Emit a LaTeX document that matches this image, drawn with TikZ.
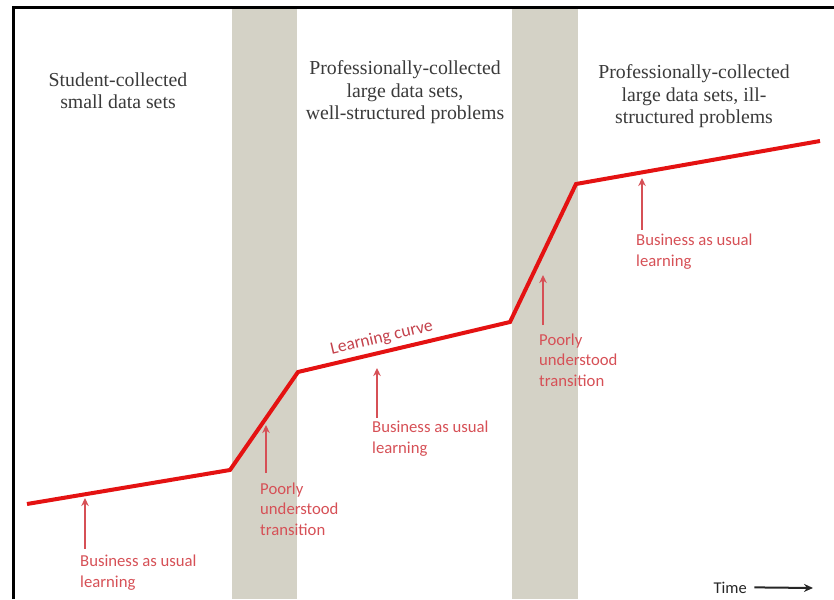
\documentclass[tikz,border=0pt]{standalone}
\usepackage{fontspec}
\setmainfont{Liberation Serif}
\newfontfamily\calfont{Carlito}
\usetikzlibrary{arrows.meta}
\definecolor{bandgray}{RGB}{212,210,198}
\definecolor{curvered}{RGB}{228,18,18}
\definecolor{labred}{RGB}{214,80,86}
\definecolor{curvelab}{RGB}{196,66,76}
\definecolor{headgray}{RGB}{58,58,58}
\tikzset{
  heading/.style={font=\fontsize{19.8}{22.5}\selectfont, text=headgray, align=center, anchor=base, inner sep=0pt},
  redlabel/.style={font=\calfont\fontsize{16.7}{20.5}\selectfont, text=labred, align=left, anchor=base west, inner sep=0pt},
  redarrow/.style={draw=labred, line width=1.8pt, -{Stealth[length=8pt,width=7.5pt]}},
  curveline/.style={draw=curvered, line width=4pt, line join=miter},
  band/.style={fill=bandgray}
}
\begin{document}
\begin{tikzpicture}[x=1pt,y=-1pt]
\useasboundingbox (0,0) rectangle (834,599);
% bands
\fill[band] (232,9) rectangle (297,599);
\fill[band] (512,9) rectangle (578,599);
% frame
\draw[line width=2.6pt] (13.5,599) -- (13.5,7.5) -- (834,7.5);
% headings (anchor = baseline of last line)
\node[heading, font=\fontsize{19.8}{21}\selectfont] (h1) at (118,108) {Student-collected\\small data sets};
\node[heading] (h2) at (405,120) {Professionally-collected\\large data sets,\\well-structured problems};
\node[heading] (h3) at (694,124) {Professionally-collected\\large data sets, ill-\\structured problems};
% learning curve
\coordinate (c0) at (27,504);
\coordinate (c1) at (230,470);
\coordinate (c2) at (298,372);
\coordinate (c3) at (510,322);
\coordinate (c4) at (576,184);
\coordinate (c5) at (820,141);
\draw[curveline] (c0) -- (c1) -- (c2) -- (c3) -- (c4) -- (c5);
\path (c2) -- (c3) node[pos=0.41, sloped, above=6pt, inner sep=0pt, font=\calfont\fontsize{17.5}{20}\selectfont, text=curvelab] (lc) {Learning curve};
% arrow tips
\coordinate (t1) at (85,498);
\coordinate (t2) at (266,425);
\coordinate (t3) at (377,368);
\coordinate (t4) at (543,275);
\coordinate (t5) at (642,178);
% labels (anchor = baseline of last line)
\node[redlabel] (l1) at (80,587) {Business as usual\\learning};
\node[redlabel] (l2) at (260,535) {Poorly\\understood\\transition};
\node[redlabel] (l3) at (372,453) {Business as usual\\learning};
\node[redlabel] (l4) at (539,386) {Poorly\\understood\\transition};
\node[redlabel] (l5) at (636,266) {Business as usual\\learning};
\draw[redarrow] ([xshift=5pt,yshift=6pt]l1.north west) -- (t1);
\draw[redarrow] ([xshift=6pt,yshift=9pt]l2.north west) -- (t2);
\draw[redarrow] ([xshift=5pt,yshift=3pt]l3.north west) -- (t3);
\draw[redarrow] ([xshift=4pt,yshift=8pt]l4.north west) -- (t4);
\draw[redarrow] ([xshift=6pt,yshift=4pt]l5.north west) -- (t5);
% time
\node[font=\calfont\fontsize{16.5}{19}\selectfont, text=black!85, anchor=base west] (time) at (710,593) {Time};
\coordinate (timeend) at (813,588);
\draw[line width=2pt, draw=black!85, -{Stealth[length=9pt,width=8pt]}] ([xshift=4pt]time.east) -- (timeend);
\end{tikzpicture}
\end{document}
